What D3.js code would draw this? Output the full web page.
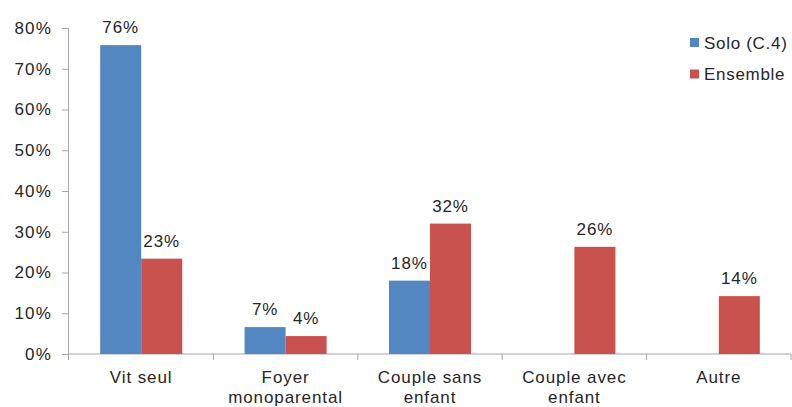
<!DOCTYPE html>
<html>
<head>
<meta charset="utf-8">
<script src="https://cdn.jsdelivr.net/npm/d3@7"></script>
<style>
  body { margin: 0; background: #fff; }
  text { font-family: "Liberation Sans", Arial, sans-serif; fill: #262626; }
</style>
</head>
<body>
<div id="chart"></div>
<script>
var categories = [["Vit seul"], ["Foyer", "monoparental"], ["Couple sans", "enfant"], ["Couple avec", "enfant"], ["Autre"]];
var series = ["Solo (C.4)", "Ensemble"];
var soloValues = [75.8, 6.6, 18, null, null];
var ensembleValues = [23.4, 4.4, 32, 26.3, 14.2];
var yTicks = [0, 10, 20, 30, 40, 50, 60, 70, 80];
var colors = ["#5387C2", "#C9524F"];

var svgWidth = 792;
var svgHeight = 407;
var margin = { top: 28, right: 1, bottom: 53, left: 69 };
var width = svgWidth - margin.left - margin.right;
var height = svgHeight - margin.top - margin.bottom;

var svg = d3.select("#chart")
  .append("svg")
  .attr("width", svgWidth)
  .attr("height", svgHeight);

var chartGroup = svg.append("g")
  .attr("transform", `translate(${margin.left}, ${margin.top})`);

var catKeys = categories.map(c => c.join(" "));

var x0 = d3.scaleBand()
  .domain(catKeys)
  .range([0, width])
  .padding(0);

var x1 = d3.scaleBand()
  .domain(series)
  .range([0, x0.bandwidth()])
  .paddingInner(0)
  .paddingOuter(0.76);

var y = d3.scaleLinear()
  .domain([0, 80])
  .range([height, 0]);

var axisColor = "#A6A6A6";
var fontSize = "17px";
var spacing = "0.9px";

// y axis
var leftAxis = d3.axisLeft(y)
  .tickValues(yTicks)
  .tickSize(7)
  .tickPadding(10)
  .tickFormat(d => d + "%");

var yAxisG = chartGroup.append("g").call(leftAxis);
yAxisG.select(".domain").attr("stroke", axisColor).attr("d", `M-0.5,0V${height + 6}`);
yAxisG.selectAll(".tick line").attr("stroke", axisColor);
yAxisG.selectAll(".tick text")
  .style("font-size", fontSize)
  .style("letter-spacing", "1.2px")
  .attr("fill", "#262626");
yAxisG.attr("font-family", null);

// x axis line with boundary ticks
var xAxisG = chartGroup.append("g")
  .attr("transform", `translate(0, ${height})`);
xAxisG.append("line")
  .attr("x1", 0).attr("x2", width)
  .attr("y1", 0).attr("y2", 0)
  .attr("stroke", axisColor);
xAxisG.selectAll(".xtick")
  .data(catKeys)
  .enter()
  .append("line")
  .attr("x1", d => x0(d) + x0.bandwidth())
  .attr("x2", d => x0(d) + x0.bandwidth())
  .attr("y1", 0).attr("y2", 6)
  .attr("stroke", axisColor);

// category labels
var catLabels = xAxisG.selectAll(".catLabel")
  .data(categories)
  .enter()
  .append("text")
  .attr("text-anchor", "middle")
  .attr("x", d => x0(d.join(" ")) + x0.bandwidth() / 2)
  .style("font-size", fontSize)
  .style("letter-spacing", spacing);
catLabels.selectAll("tspan")
  .data(d => d)
  .enter()
  .append("tspan")
  .attr("x", function() { return this.parentNode.getAttribute("x"); })
  .attr("y", (d, i) => 29 + i * 19.5)
  .text(d => d);

// bars
var barData = [];
catKeys.forEach(function(c, i) {
  [soloValues, ensembleValues].forEach(function(vals, s) {
    if (vals[i] != null) barData.push({ cat: c, series: series[s], value: vals[i], color: colors[s] });
  });
});

chartGroup.selectAll(".bar")
  .data(barData)
  .enter()
  .append("rect")
  .attr("x", d => x0(d.cat) + x1(d.series))
  .attr("y", d => y(d.value))
  .attr("width", x1.bandwidth())
  .attr("height", d => height - y(d.value))
  .attr("fill", d => d.color);

chartGroup.selectAll(".valueLabel")
  .data(barData)
  .enter()
  .append("text")
  .attr("text-anchor", "middle")
  .attr("x", d => x0(d.cat) + x1(d.series) + x1.bandwidth() / 2)
  .attr("y", d => y(d.value) - 12)
  .style("font-size", fontSize)
  .style("letter-spacing", spacing)
  .text(d => Math.round(d.value) + "%");

// legend
var legend = svg.append("g")
  .attr("transform", "translate(690, 38)");
var legendItems = legend.selectAll("g")
  .data(series)
  .enter()
  .append("g")
  .attr("transform", (d, i) => `translate(0, ${i * 31.5})`);
legendItems.append("rect")
  .attr("width", 9)
  .attr("height", 9)
  .attr("fill", (d, i) => colors[i]);
legendItems.append("text")
  .attr("x", 14)
  .attr("y", 10.5)
  .style("font-size", fontSize)
  .style("letter-spacing", "0.7px")
  .text(d => d);
</script>
</body>
</html>
